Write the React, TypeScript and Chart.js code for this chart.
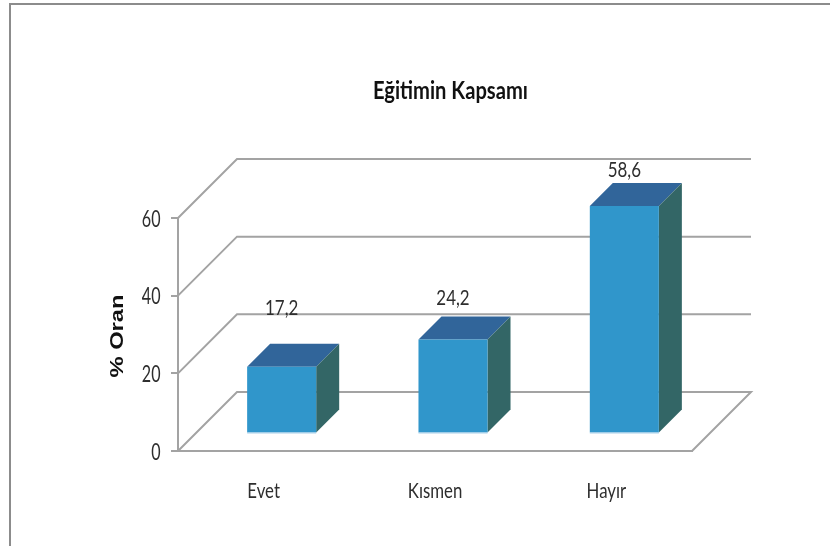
import React, { useEffect, useRef } from "react";
import { Chart, registerables } from "chart.js";

Chart.register(...registerables);

const categories = ["Evet", "Kısmen", "Hayır"];
const values = [17.2, 24.2, 58.6];
const valueLabels = ["17,2", "24,2", "58,6"];
const yTicks = [0, 20, 40, 60];
const chartTitle = "Eğitimin Kapsamı";
const yTitle = "% Oran";

const BODY = 'Lato, "Open Sans", sans-serif';
const GRID = "#a3a3a3";
const INK = "#2e2e2e";
const WALL = 59;
const BAR_SHIFT_X = 18;
const BAR_SHIFT_Y = 17.5;
const BAR_DEPTH = 23;
const LABEL_LIFT = [52, 35, 29];

function squeezed(ctx: any, text: string, x: number, y: number, sx: number, font: string, color: string, rotate = 0) {
  ctx.save();
  ctx.translate(x, y);
  if (rotate) ctx.rotate(rotate);
  ctx.scale(sx, 1);
  ctx.font = font;
  ctx.fillStyle = color;
  ctx.fillText(text, 0, 0);
  ctx.restore();
}

const threeD = {
  id: "threeD",
  beforeDraw(chart: any) {
    const { ctx, width, height } = chart;
    ctx.save();
    ctx.strokeStyle = "#8c8c8c";
    ctx.lineWidth = 2;
    ctx.beginPath();
    ctx.moveTo(10, height);
    ctx.lineTo(10, 4);
    ctx.lineTo(width, 4);
    ctx.stroke();
    ctx.restore();
  },
  beforeDatasetsDraw(chart: any) {
    const { ctx, chartArea, scales } = chart;
    const { left, right } = chartArea;
    ctx.save();
    ctx.strokeStyle = GRID;
    ctx.lineWidth = 2;
    yTicks.forEach((t) => {
      const y = scales.y.getPixelForValue(t);
      ctx.beginPath();
      ctx.moveTo(left, y);
      ctx.lineTo(left + WALL, y - WALL);
      ctx.lineTo(right + WALL, y - WALL);
      if (t === 0) ctx.lineTo(right, y);
      ctx.stroke();
    });
    const meta = chart.getDatasetMeta(0);
    meta.data.forEach((bar: any) => {
      const x0 = bar.x - bar.width / 2 + BAR_SHIFT_X;
      const x1 = bar.x + bar.width / 2 + BAR_SHIFT_X;
      const yT = bar.y - BAR_SHIFT_Y;
      const yB = bar.base - BAR_SHIFT_Y;
      ctx.fillStyle = "#31659a";
      ctx.beginPath();
      ctx.moveTo(x0, yT);
      ctx.lineTo(x0 + BAR_DEPTH, yT - BAR_DEPTH);
      ctx.lineTo(x1 + BAR_DEPTH, yT - BAR_DEPTH);
      ctx.lineTo(x1, yT);
      ctx.closePath();
      ctx.fill();
      ctx.fillStyle = "#336666";
      ctx.beginPath();
      ctx.moveTo(x1, yT);
      ctx.lineTo(x1 + BAR_DEPTH, yT - BAR_DEPTH);
      ctx.lineTo(x1 + BAR_DEPTH, yB - BAR_DEPTH);
      ctx.lineTo(x1, yB);
      ctx.closePath();
      ctx.fill();
    });
    ctx.restore();
    ctx.save();
    ctx.translate(BAR_SHIFT_X, -BAR_SHIFT_Y);
  },
  afterDatasetsDraw(chart: any) {
    const { ctx, scales } = chart;
    ctx.restore();
    ctx.save();
    ctx.textAlign = "center";
    ctx.textBaseline = "alphabetic";
    const meta = chart.getDatasetMeta(0);
    meta.data.forEach((bar: any, i: number) => {
      squeezed(ctx, valueLabels[i], bar.x + BAR_SHIFT_X, bar.y - BAR_SHIFT_Y - LABEL_LIFT[i], 0.77, `22px ${BODY}`, INK);
      ctx.strokeStyle = "#a8d0ea";
      ctx.lineWidth = 1;
      ctx.beginPath();
      ctx.moveTo(bar.x - bar.width / 2 + BAR_SHIFT_X, bar.base - BAR_SHIFT_Y + 0.5);
      ctx.lineTo(bar.x + bar.width / 2 + BAR_SHIFT_X, bar.base - BAR_SHIFT_Y + 0.5);
      ctx.stroke();
    });
    categories.forEach((c, i) => {
      squeezed(ctx, c, scales.x.getPixelForTick(i), 498, 0.8, `21px ${BODY}`, INK);
    });
    ctx.textAlign = "right";
    yTicks.forEach((t) => {
      squeezed(ctx, String(t), 160.5, scales.y.getPixelForValue(t) + 8.5, 0.7, `23px ${BODY}`, INK);
    });
    ctx.textAlign = "center";
    squeezed(ctx, chartTitle, 450.5, 99, 0.84, `bold 24px ${BODY}`, "#111");
    squeezed(ctx, yTitle, 123, 336, 1.25, 'bold 19px "Liberation Sans", sans-serif', "#111", -Math.PI / 2);
    ctx.restore();
  },
};

export default function App() {
  const ref = useRef<HTMLCanvasElement>(null);
  useEffect(() => {
    document.body.style.margin = "0";
    const chart = new Chart(ref.current as HTMLCanvasElement, {
      type: "bar",
      data: {
        labels: categories,
        datasets: [
          {
            data: values,
            backgroundColor: "#3096cb",
            categoryPercentage: 1,
            barPercentage: 0.403,
          },
        ],
      },
      plugins: [threeD],
      options: {
        animation: false,
        responsive: false,
        layout: { padding: { left: 100, top: 218, right: 138, bottom: 0 } },
        plugins: { legend: { display: false }, tooltip: { enabled: false } },
        scales: {
          x: {
            grid: { display: false },
            border: { color: GRID, width: 2 },
            ticks: { display: false },
            afterFit: (s: any) => {
              s.height = 95;
            },
          },
          y: {
            min: 0,
            max: 60,
            afterBuildTicks: (s: any) => {
              s.ticks = yTicks.map((value) => ({ value }));
            },
            grid: { drawOnChartArea: false, color: GRID, lineWidth: 2, tickLength: 7 },
            border: { color: GRID, width: 2 },
            ticks: { display: false },
            afterFit: (s: any) => {
              s.width = 78;
            },
          },
        },
      },
    } as any);
    return () => chart.destroy();
  }, []);
  return <canvas ref={ref} width={830} height={546} style={{ display: "block" }} />;
}
